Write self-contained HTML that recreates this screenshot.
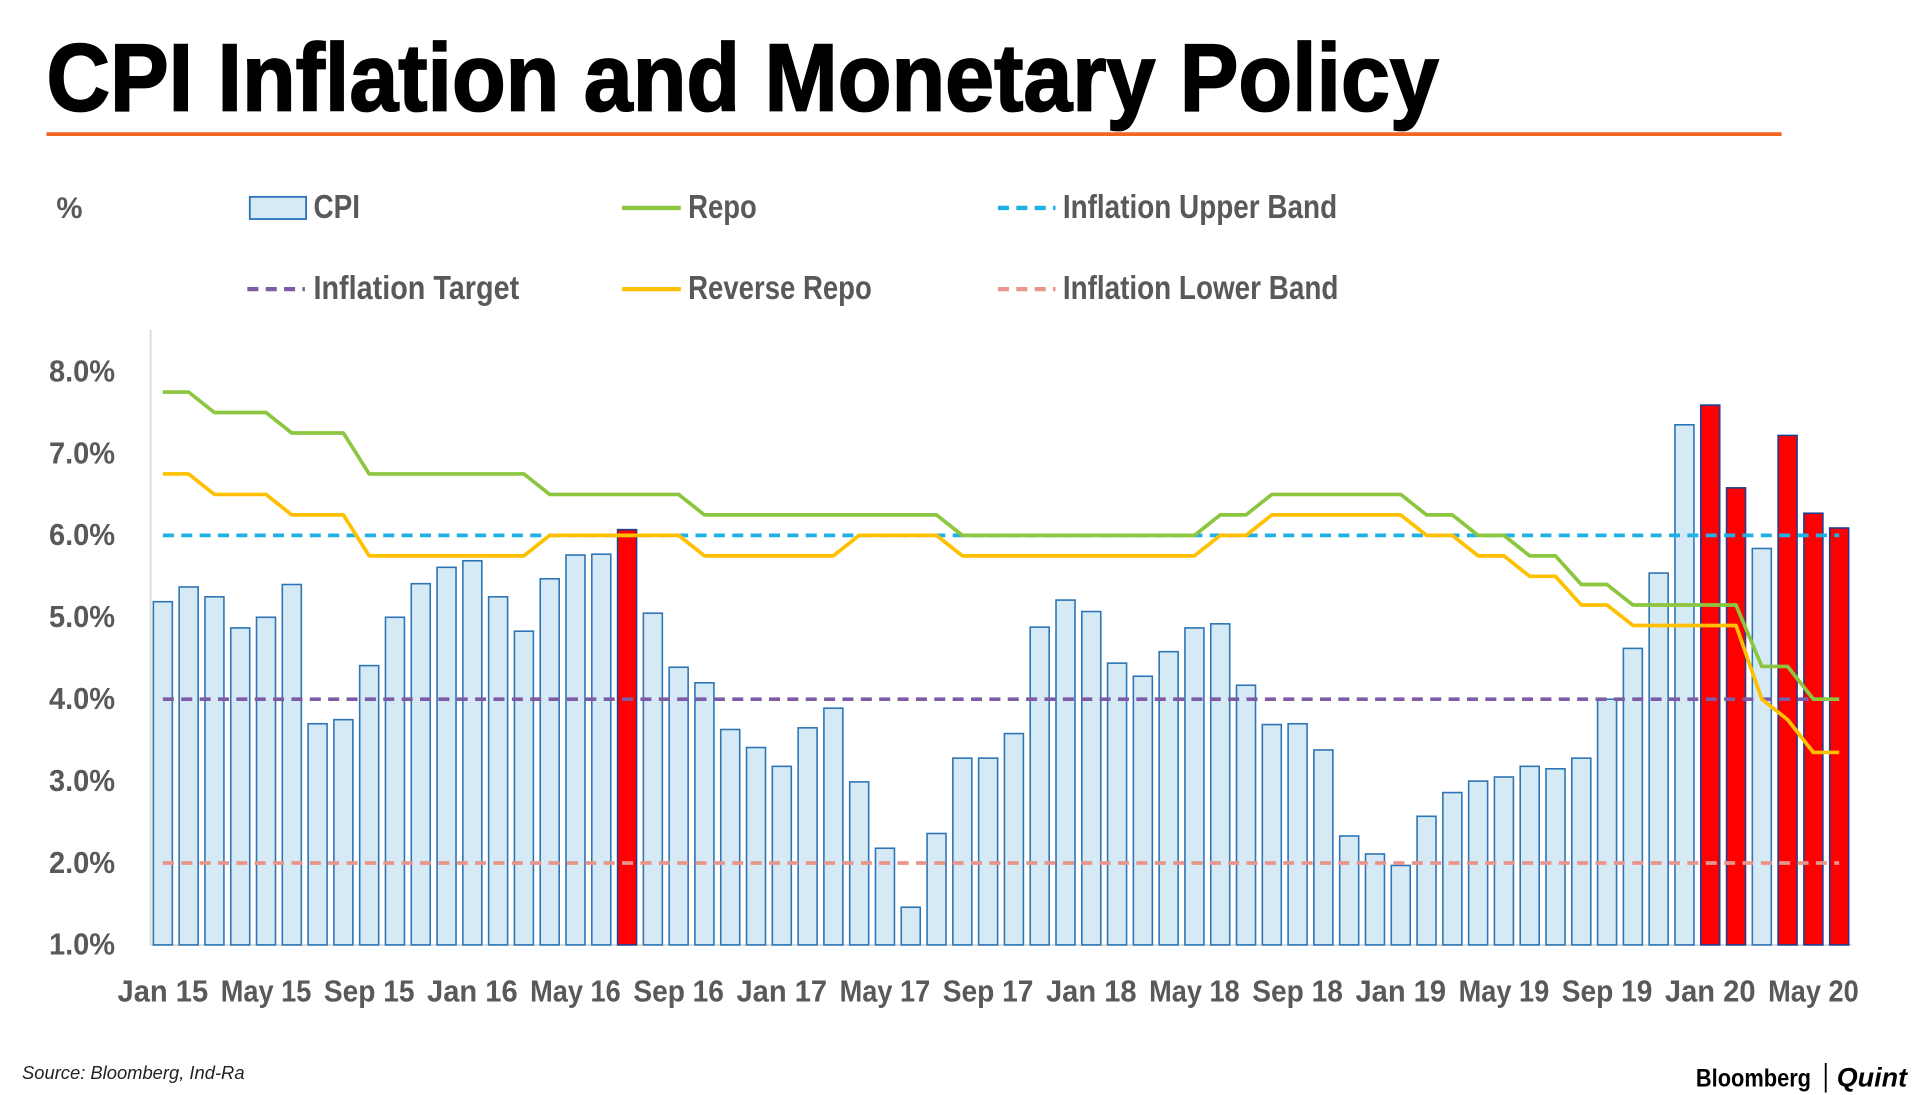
<!DOCTYPE html>
<html><head><meta charset="utf-8"><title>CPI Inflation and Monetary Policy</title>
<style>
html,body{margin:0;padding:0;background:#fff;}
svg{display:block;}
text{font-family:"Liberation Sans Narrow","Liberation Sans",sans-serif;}
</style></head>
<body>
<svg id="chart" width="1920" height="1095" viewBox="0 0 1568 890" preserveAspectRatio="none" xmlns="http://www.w3.org/2000/svg">
<text x="38" y="90" font-size="78" font-weight="bold" fill="#000" textLength="1137" lengthAdjust="spacingAndGlyphs" stroke="#000" stroke-width="1.5">CPI Inflation and Monetary Policy</text>
<line x1="38" y1="109" x2="1455" y2="109" stroke="#f26522" stroke-width="3"/>
<text x="46" y="177" font-size="24" font-weight="bold" fill="#595959">%</text>
<g font-size="27" font-weight="bold" fill="#595959">
 <g><rect x="204" y="160" width="46" height="18" fill="#d6eaf5" stroke="#2e75b6" stroke-width="1.5"/><text x="256" y="177" textLength="38" lengthAdjust="spacingAndGlyphs">CPI</text></g>
 <g><line x1="508" y1="169" x2="556" y2="169" stroke="#8cc63f" stroke-width="3.5"/><text x="562" y="177" textLength="56" lengthAdjust="spacingAndGlyphs">Repo</text></g>
 <g><line x1="815" y1="169" x2="862" y2="169" stroke="#1fb0e6" stroke-width="3.5" stroke-dasharray="9,6"/><text x="868" y="177" textLength="224" lengthAdjust="spacingAndGlyphs">Inflation Upper Band</text></g>
 <g><line x1="202" y1="235" x2="249" y2="235" stroke="#7e5ba6" stroke-width="3.5" stroke-dasharray="9,6"/><text x="256" y="243" textLength="168" lengthAdjust="spacingAndGlyphs">Inflation Target</text></g>
 <g><line x1="508" y1="235" x2="556" y2="235" stroke="#ffc000" stroke-width="3.5"/><text x="562" y="243" textLength="150" lengthAdjust="spacingAndGlyphs">Reverse Repo</text></g>
 <g><line x1="815" y1="235" x2="862" y2="235" stroke="#e8958b" stroke-width="3.5" stroke-dasharray="9,6"/><text x="868" y="243" textLength="225" lengthAdjust="spacingAndGlyphs">Inflation Lower Band</text></g>
</g>
<g id="plot"></g>
<text x="18" y="877" font-size="15" font-style="italic" fill="#222">Source: Bloomberg, Ind-Ra</text>
<g>
<text x="1385" y="883" font-size="20" font-weight="bold" fill="#000" textLength="94" lengthAdjust="spacingAndGlyphs">Bloomberg</text>
<line x1="1491" y1="864" x2="1491" y2="888" stroke="#000" stroke-width="1.5"/>
<text x="1500" y="883" font-size="22" font-style="italic" font-weight="bold" fill="#000" font-family="Liberation Serif,serif">Quint</text>
</g>
</svg>
<script>
const cpi=[5.19,5.37,5.25,4.87,5.0,5.40,3.70,3.75,4.41,5.0,5.41,5.61,5.69,5.25,4.83,5.47,5.76,5.77,6.07,5.05,4.39,4.20,3.63,3.41,3.18,3.65,3.89,2.99,2.18,1.46,2.36,3.28,3.28,3.58,4.88,5.21,5.07,4.44,4.28,4.58,4.87,4.92,4.17,3.69,3.70,3.38,2.33,2.11,1.97,2.57,2.86,3.0,3.05,3.18,3.15,3.28,4.0,4.62,5.54,7.35,7.59,6.58,5.84,7.22,6.27,6.09];
const highlighted=[18,60,61,63,64,65];
const repo=[7.75,7.75,7.5,7.5,7.5,7.25,7.25,7.25,6.75,6.75,6.75,6.75,6.75,6.75,6.75,6.5,6.5,6.5,6.5,6.5,6.5,6.25,6.25,6.25,6.25,6.25,6.25,6.25,6.25,6.25,6.25,6.0,6.0,6.0,6.0,6.0,6.0,6.0,6.0,6.0,6.0,6.25,6.25,6.5,6.5,6.5,6.5,6.5,6.5,6.25,6.25,6.0,6.0,5.75,5.75,5.4,5.4,5.15,5.15,5.15,5.15,5.15,4.4,4.4,4.0,4.0];
const reverseRepo=[6.75,6.75,6.5,6.5,6.5,6.25,6.25,6.25,5.75,5.75,5.75,5.75,5.75,5.75,5.75,6.0,6.0,6.0,6.0,6.0,6.0,5.75,5.75,5.75,5.75,5.75,5.75,6.0,6.0,6.0,6.0,5.75,5.75,5.75,5.75,5.75,5.75,5.75,5.75,5.75,5.75,6.0,6.0,6.25,6.25,6.25,6.25,6.25,6.25,6.0,6.0,5.75,5.75,5.5,5.5,5.15,5.15,4.9,4.9,4.9,4.9,4.9,4.0,3.75,3.35,3.35];
const upperBand=6, target=4, lowerBand=2;
const yTicks=[1,2,3,4,5,6,7,8];
const xLabels=["Jan 15","May 15","Sep 15","Jan 16","May 16","Sep 16","Jan 17","May 17","Sep 17","Jan 18","May 18","Sep 18","Jan 19","May 19","Sep 19","Jan 20","May 20"];

const NS="http://www.w3.org/2000/svg";
const plot=document.getElementById('plot');
const X0=133,X1=1502,Y1=768,Y8=302;
const n=cpi.length;
const x=i=>X0+i*(X1-X0)/(n-1);
const y=v=>Y1-(v-1)*(Y1-Y8)/7;
function mk(tag,attrs){const e=document.createElementNS(NS,tag);for(const k in attrs)e.setAttribute(k,attrs[k]);plot.appendChild(e);return e;}

let e=mk('line',{x1:123,y1:268,x2:123,y2:768,stroke:'#d9d9d9','stroke-width':1.5});


e=mk('line',{x1:123,y1:768,x2:1512,y2:768,stroke:'#d9d9d9','stroke-width':1.5});



yTicks.forEach(v=>{
 const t=mk('text',{x:94,y:y(v)+8,'font-size':25,'font-weight':'bold',fill:'#595959','text-anchor':'end',textLength:54,lengthAdjust:'spacingAndGlyphs'});
 t.textContent=v.toFixed(1)+'%';
 
 
});
xLabels.forEach((l,k)=>{
 const t=mk('text',{x:x(k*4)-37,y:814,'font-size':25,'font-weight':'bold',fill:'#595959',textLength:74,lengthAdjust:'spacingAndGlyphs'});
 t.textContent=l;
 
 
});

const bw=15.5;
cpi.forEach((v,i)=>{
 const red=highlighted.includes(i);
 const r=mk('rect',{x:x(i)-bw/2,y:y(v),width:bw,height:Y1-y(v),fill:red?'#ff0000':'#d6eaf5',stroke:red?'#1f3f8f':'#2e75b6','stroke-width':1.3});
 
 
});

function hline(v,color,name){
 const l=mk('line',{x1:x(0),y1:y(v),x2:x(n-1),y2:y(v),stroke:color,'stroke-width':3,'stroke-dasharray':'9,6'});
 
 
}
hline(upperBand,'#1fb0e6','inflation-upper-band-line');
hline(target,'#7e5ba6','inflation-target-line');
hline(lowerBand,'#e8958b','inflation-lower-band-line');

function poly(arr,color,name){
 const p=mk('polyline',{points:arr.map((v,i)=>x(i)+','+y(v)).join(' '),fill:'none',stroke:color,'stroke-width':3,'stroke-linejoin':'round'});
 
 
}
poly(reverseRepo,'#ffc000','reverse-repo-line');
poly(repo,'#8cc63f','repo-line');
</script>
</body></html>
